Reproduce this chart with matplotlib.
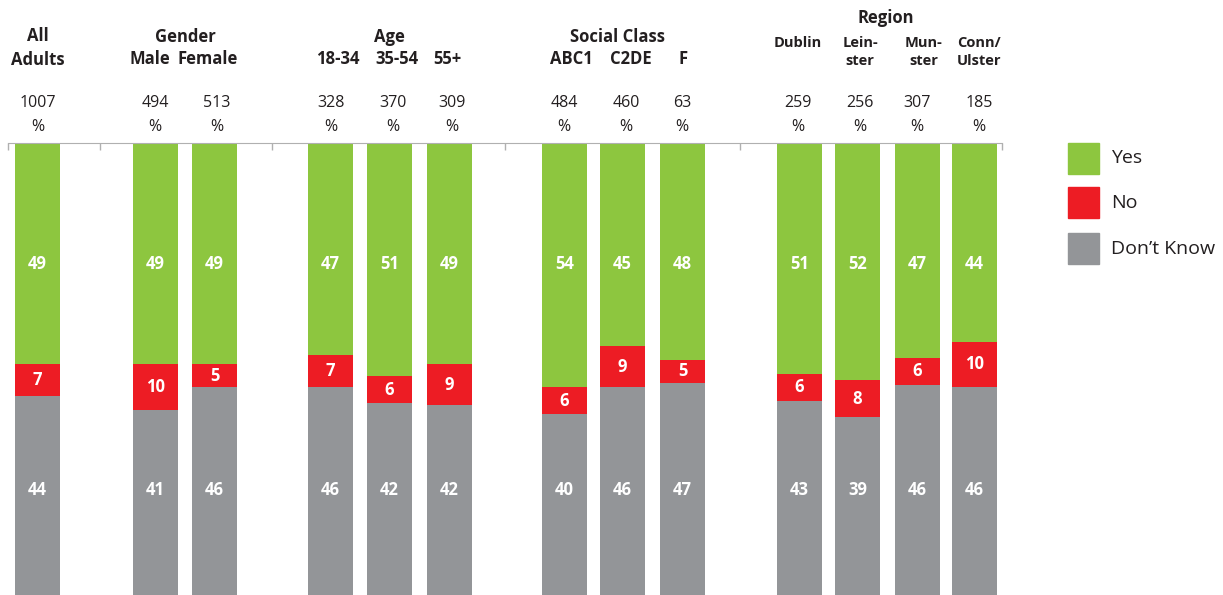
import matplotlib
matplotlib.use("Agg")
import matplotlib.pyplot as plt
from matplotlib.patches import Rectangle
import numpy as np

plt.rcParams['font.family'] = ['Open Sans', 'DejaVu Sans']

# data
groups = ["All\nAdults", "Gender", "Age", "Social Class", "Region"]
categories = ["All Adults", "Male", "Female", "18-34", "35-54", "55+",
              "ABC1", "C2DE", "F", "Dublin", "Leinster", "Munster", "Conn/Ulster"]
sub_labels = ["", "Male", "Female", "18-34", "35-54", "55+",
              "ABC1", "C2DE", "F", "Dublin", "Lein-\nster", "Mun-\nster", "Conn/\nUlster"]
bases = [1007, 494, 513, 328, 370, 309, 484, 460, 63, 259, 256, 307, 185]
yes = [49, 49, 49, 47, 51, 49, 54, 45, 48, 51, 52, 47, 44]
no = [7, 10, 5, 7, 6, 9, 6, 9, 5, 6, 8, 6, 10]
dont_know = [44, 41, 46, 46, 42, 42, 40, 46, 47, 43, 39, 46, 46]
legend_labels = ["Yes", "No", "Don\u2019t Know"]

col_yes = "#8dc63f"
col_no = "#ed1c24"
col_dk = "#939598"
txt_col = "#231f20"

# layout (pixel-like x units)
xpos = np.array([37.5, 155.5, 214.5, 330.5, 389.5, 449.5,
                 564.5, 622.5, 682.5, 799.5, 857.5, 917.5, 974.5])
sub_x = [37.5, 150, 208, 338, 397, 447, 571, 631, 683, 798, 860, 924, 979]
base_x = [38, 155, 217, 331, 393, 452, 564, 626, 682, 798, 860, 917, 979]
group_x = [37.5, 185, 389, 618, 886]
bar_w = 45
separators = [8, 100, 272, 505, 740, 1002]

W, H = 1223, 595
fig = plt.figure(figsize=(W / 100, H / 100), dpi=100)
ax = fig.add_axes([0, 0, 1, 452 / H])
ax.set_xlim(0, W)
ax.set_ylim(0, 100)

yes_a = np.array(yes, dtype=float)
no_a = np.array(no, dtype=float)
dk_a = np.array(dont_know, dtype=float)
# rounded shares may add to 99; bars are drawn as full 100% columns
tot = yes_a + no_a + dk_a
yes_h = yes_a * 100 / tot
no_h = no_a * 100 / tot
dk_h = dk_a * 100 / tot

ax.bar(xpos, dk_h, width=bar_w, color=col_dk)
ax.bar(xpos, no_h, width=bar_w, bottom=dk_h, color=col_no)
ax.bar(xpos, yes_h, width=bar_w, bottom=dk_h + no_h, color=col_yes)

lbl = dict(color="white", fontweight="bold", fontsize=12, ha="center", va="center")
for i in range(len(xpos)):
    ax.text(xpos[i], 73.2, str(yes[i]), **lbl)
    ax.text(xpos[i], dk_h[i] + no_h[i] / 2, str(no[i]), **lbl)
    ax.text(xpos[i], 23.2, str(dont_know[i]), **lbl)

# top axis line with separator ticks
for s in ["left", "right", "bottom"]:
    ax.spines[s].set_visible(False)
ax.spines["top"].set_color("#b0b0b0")
ax.spines["top"].set_bounds(separators[0], separators[-1])
ax.xaxis.tick_top()
ax.set_xticks(separators)
ax.set_xticklabels([])
ax.tick_params(axis="x", direction="in", length=5, color="#b0b0b0", width=1)
ax.set_yticks([])

def py(p):
    # pixel row from top of image -> data y
    return (H - p) / 4.52

# headers
hdr = dict(fontweight="bold", fontsize=12, ha="center", va="center", color=txt_col, clip_on=False)
ax.text(group_x[0], py(48), groups[0], linespacing=1.45, **hdr)
ax.text(group_x[1], py(37), groups[1], **hdr)
ax.text(group_x[2], py(37), groups[2], **hdr)
ax.text(group_x[3], py(37), groups[3], **hdr)
ax.text(group_x[4], py(18), groups[4], **hdr)
for i in range(1, 9):
    ax.text(sub_x[i], py(59), sub_labels[i], **hdr)
sub = dict(fontweight="bold", fontsize=10.5, ha="center", va="center", color=txt_col,
           clip_on=False, linespacing=1.3)
ax.text(sub_x[9], py(43), sub_labels[9], **sub)
for i in range(10, 13):
    ax.text(sub_x[i], py(52), sub_labels[i], **sub)

for i in range(len(xpos)):
    ax.text(base_x[i], py(103), str(bases[i]), fontsize=11.5, ha="center", va="center",
            color=txt_col, clip_on=False)
    ax.text(base_x[i], py(127), "%", fontsize=11.5, ha="center", va="center",
            color=txt_col, clip_on=False)

# legend drawn as boxes in figure pixels
leg_cols = [col_yes, col_no, col_dk]
leg_top = [143, 187, 233]
for c, t, lab in zip(leg_cols, leg_top, legend_labels):
    fig.add_artist(Rectangle((1068 / W, 1 - (t + 31) / H), 31 / W, 31 / H,
                             color=c, transform=fig.transFigure))
    fig.text(1111 / W, 1 - (t + 15.5) / H, lab, fontsize=14, color=txt_col,
             ha="left", va="center")

fig.savefig("out.png", dpi=100)
